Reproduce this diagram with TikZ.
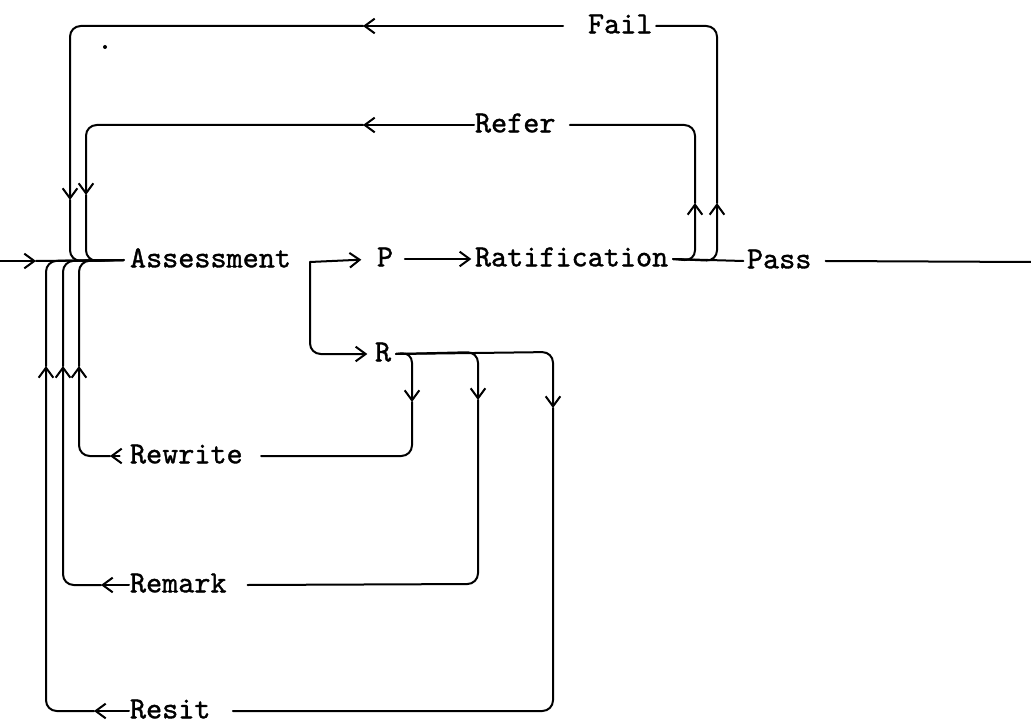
\documentclass[tikz,border=0pt]{standalone}
\usepackage{fontspec}
\newfontfamily\tw{lmmono10-regular.otf}[FakeBold=1.2]
\usetikzlibrary{arrows.meta,calc}
\begin{document}
\begin{tikzpicture}[x=0.75pt,y=-0.75pt, line width=1.5pt, line cap=round, line join=round,
 lbl/.style={inner xsep=0pt, inner ysep=0pt, text height=14pt, text depth=3pt, font=\tw\fontsize{23}{26}\selectfont, anchor=west},
 tip/.style={-{Straight Barb[length=7.5pt,width=11pt]}},
 rc/.style={rounded corners=8pt}]
\useasboundingbox (0,0) rectangle (1031,727);
% nodes
\node[lbl] (ass) at (129,260) {Assessment};
\node[lbl] (p) at (376,259) {P};
\node[lbl] (rat) at (474,259) {Ratification};
\node[lbl] (pass) at (746,261) {Pass};
\node[lbl] (fail) at (587,26) {Fail};
\node[lbl] (refer) at (474,125) {Refer};
\node[lbl] (r) at (374,354) {R};
\node[lbl] (rewrite) at (129,456) {Rewrite};
\node[lbl] (remark) at (129,585) {Remark};
\node[lbl] (resit) at (129,711) {Resit};
\coordinate (in) at (0,261);
\coordinate (out) at (1031,262);
\coordinate (fork) at (310,262);
% entry
\draw[tip] (in) -- (36,261);
\draw (36,261) -- ([xshift=-4pt]ass.west);
% Fail loop
\draw[tip,rc] ([xshift=3pt]rat.east) -- (717,261) -- (717,203);
\draw[rc] (717,203) -- (717,26) -- ([xshift=2pt]fail.east);
\draw[tip] ([xshift=-18pt]fail.west) -- (363,26);
\draw[tip,rc] (363,26) -- (70,26) -- (70,200);
\draw[rc] (70,200) -- (70,261) -- ([xshift=-4pt]ass.west);
% Refer loop
\draw[tip,rc] ([xshift=3pt]rat.east) -- (695,261) -- (695,203);
\draw[rc] (695,203) -- (695,125) -- ([xshift=10pt]refer.east);
\draw[tip] (refer.west) -- (363,125);
\draw[tip,rc] (363,125) -- (86,125) -- (86,195);
\draw[rc] (86,195) -- (86,261) -- ([xshift=-4pt]ass.west);
% Pass
\draw ([xshift=3pt]rat.east) -- ([xshift=-2pt]pass.west);
\draw ([xshift=10pt]pass.east) -- (out);
% P and R
\draw[tip,shorten >=11pt] (fork) -- (p.west);
\draw[tip,shorten >=2pt] ([xshift=8pt]p.east) -- (rat.west);
\draw[tip,rc,shorten >=5pt] (fork) -- (fork |- r.west) -- (r.west);
% R branches
\draw[tip,rc] ([xshift=3pt]r.east) -- (412,352) -- (412,402);
\draw[rc] (412,402) -- (412,456) -- ([xshift=13pt]rewrite.east);
\draw[tip,rc] ([xshift=3pt]r.east) -- (478,352) -- (478,400);
\draw[rc] (478,400) -- (478,584) -- ([xshift=15pt]remark.east);
\draw[tip,rc] ([xshift=3pt]r.east) -- (553,352) -- (553,408);
\draw[rc] (553,408) -- (553,711) -- ([xshift=16pt]resit.east);
% returns
\draw[tip] ([xshift=-7pt]rewrite.west) -- (110,456);
\draw[tip,rc] (110,456) -- (79,456) -- (79,366);
\draw[rc] (79,366) -- (79,261) -- ([xshift=-4pt]ass.west);
\draw[tip] (remark.west) -- (101,585);
\draw[tip,rc] (101,585) -- (63,585) -- (63,366);
\draw[rc] (63,366) -- (63,261) -- ([xshift=-4pt]ass.west);
\draw[tip] (resit.west) -- (94,711);
\draw[tip,rc] (94,711) -- (46,711) -- (46,366);
\draw[rc] (46,366) -- (46,261) -- ([xshift=-4pt]ass.west);
\fill (105,47) circle (1.5pt);
\end{tikzpicture}
\end{document}
